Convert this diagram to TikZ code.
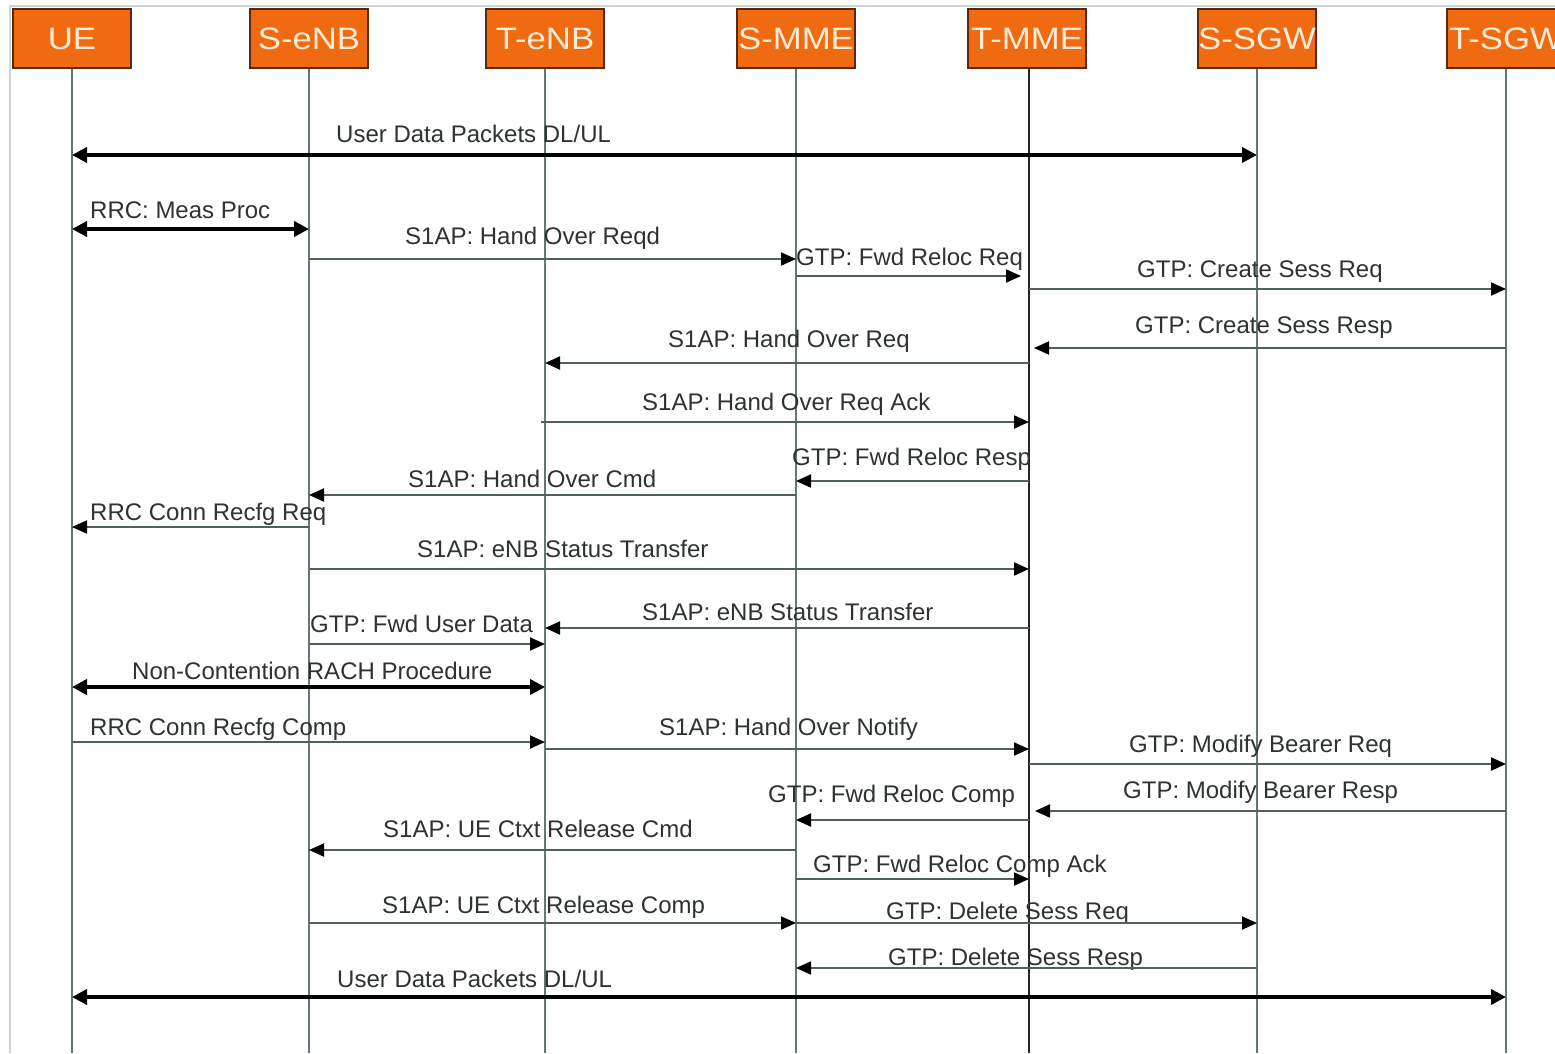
\documentclass[tikz,border=0pt]{standalone}
\usepackage{fontspec}
\setmainfont{Liberation Sans}
\usepackage{graphicx}
\usetikzlibrary{arrows.meta}
\definecolor{hdrfill}{RGB}{240,106,18}
\definecolor{hdrtext}{RGB}{255,236,214}
\definecolor{hdrborder}{RGB}{90,40,15}
\definecolor{lifegray}{RGB}{100,118,118}
\definecolor{msggray}{RGB}{80,95,95}
\definecolor{txtgray}{RGB}{45,50,50}
\definecolor{framegray}{RGB}{205,215,215}
\begin{document}
\begin{tikzpicture}[x=1pt,y=-1pt,
 hdr/.style={draw=hdrborder, line width=1.2pt, fill=hdrfill, minimum width=118pt, minimum height=59pt, inner sep=0pt, text=hdrtext, font=\fontsize{31}{31}\selectfont},
 lbl/.style={anchor=base west, inner sep=0pt, text=txtgray, font=\fontsize{24}{28}\selectfont},
 life/.style={draw=lifegray, line width=1.9pt},
 msg/.style={draw=msggray, line width=2pt, -{Triangle[length=15pt,width=13pt,color=black]}},
 bidir/.style={draw=black, line width=4.5pt, {Triangle[length=15pt,width=15pt]}-{Triangle[length=15pt,width=15pt]}}
]
\useasboundingbox (0,0) rectangle (1555,1053);
\fill[white] (0,0) rectangle (1555,1053);
\draw[framegray, line width=1.2pt] (10,1053) -- (10,6) -- (1555,6);

% headers
\node[hdr] (UE)   at (72,38.5)   {\scalebox{1.12}[1]{UE}};
\node[hdr] (SeNB) at (309,38.5)  {\scalebox{1.12}[1]{S-eNB}};
\node[hdr] (TeNB) at (545,38.5)  {\scalebox{1.12}[1]{T-eNB}};
\node[hdr] (SMME) at (796,38.5)  {\scalebox{1.12}[1]{S-MME}};
\node[hdr] (TMME) at (1027,38.5) {\scalebox{1.12}[1]{T-MME}};
\node[hdr] (SSGW) at (1257,38.5) {\scalebox{1.12}[1]{S-SGW}};
\node[hdr] (TSGW) at (1506,38.5) {\scalebox{1.12}[1]{T-SGW}};
\coordinate (TMMEtop) at (1029,68);

% lifelines
\foreach \n in {UE,SeNB,TeNB,SMME,SSGW,TSGW}
  \draw[life] (\n.south) -- (\n.south |- 0,1053);
\draw[draw=black!85, line width=2.4pt] (TMMEtop) -- (TMMEtop |- 0,1053);

% messages
\node[lbl] (l1) at (336,142) {User Data Packets DL/UL};
\draw[bidir] (UE |- 0,155) -- (SSGW |- 0,155);

\node[lbl] (l2) at (90,218) {RRC: Meas Proc};
\draw[bidir] (UE |- 0,229) -- (SeNB |- 0,229);

\node[lbl] (l3) at (405,244) {S1AP: Hand Over Reqd};
\draw[msg] (SeNB |- 0,259) -- (SMME |- 0,259);

\node[lbl] (l4) at (796,265) {GTP: Fwd Reloc Req};
\draw[msg, shorten >=8pt] (SMME |- 0,276) -- (TMMEtop |- 0,276);

\node[lbl] (l5) at (1137,277) {GTP: Create Sess Req};
\draw[msg] (TMMEtop |- 0,289) -- (TSGW |- 0,289);

\node[lbl] (l6) at (1135,333) {GTP: Create Sess Resp};
\draw[msg, shorten >=5pt] (TSGW |- 0,348) -- (TMMEtop |- 0,348);

\node[lbl] (l7) at (668,347) {S1AP: Hand Over Req};
\draw[msg] (TMMEtop |- 0,363) -- (TeNB |- 0,363);

\node[lbl] (l8) at (642,410) {S1AP: Hand Over Req Ack};
\draw[msg, shorten <=-4pt] (TeNB |- 0,422) -- (TMMEtop |- 0,422);

\node[lbl] (l9) at (792,465) {GTP: Fwd Reloc Resp};
\draw[msg] (TMMEtop |- 0,481) -- (SMME |- 0,481);

\node[lbl] (l10) at (408,487) {S1AP: Hand Over Cmd};
\draw[msg] (SMME |- 0,495) -- (SeNB |- 0,495);

\node[lbl] (l11) at (90,520) {RRC Conn Recfg Req};
\draw[msg] (SeNB |- 0,527) -- (UE |- 0,527);

\node[lbl] (l12) at (417,557) {S1AP: eNB Status Transfer};
\draw[msg] (SeNB |- 0,569) -- (TMMEtop |- 0,569);

\node[lbl] (l13) at (642,620) {S1AP: eNB Status Transfer};
\draw[msg] (TMMEtop |- 0,628) -- (TeNB |- 0,628);

\node[lbl] (l14) at (310,632) {GTP: Fwd User Data};
\draw[msg] (SeNB |- 0,644) -- (TeNB |- 0,644);

\node[lbl] (l15) at (132,679) {Non-Contention RACH Procedure};
\draw[bidir] (UE |- 0,687) -- (TeNB |- 0,687);

\node[lbl] (l16) at (90,735) {RRC Conn Recfg Comp};
\draw[msg] (UE |- 0,742) -- (TeNB |- 0,742);

\node[lbl] (l17) at (659,735) {S1AP: Hand Over Notify};
\draw[msg] (TeNB |- 0,749) -- (TMMEtop |- 0,749);

\node[lbl] (l18) at (1129,752) {GTP: Modify Bearer Req};
\draw[msg] (TMMEtop |- 0,764) -- (TSGW |- 0,764);

\node[lbl] (l19) at (768,802) {GTP: Fwd Reloc Comp};
\draw[msg] (TMMEtop |- 0,820) -- (SMME |- 0,820);

\node[lbl] (l20) at (1123,798) {GTP: Modify Bearer Resp};
\draw[msg, shorten >=6pt] (TSGW |- 0,811) -- (TMMEtop |- 0,811);

\node[lbl] (l21) at (383,837) {S1AP: UE Ctxt Release Cmd};
\draw[msg] (SMME |- 0,850) -- (SeNB |- 0,850);

\node[lbl] (l22) at (813,872) {GTP: Fwd Reloc Comp Ack};
\draw[msg] (SMME |- 0,879) -- (TMMEtop |- 0,879);

\node[lbl] (l23) at (382,913) {S1AP: UE Ctxt Release Comp};
\draw[msg] (SeNB |- 0,923) -- (SMME |- 0,923);

\node[lbl] (l24) at (886,919) {GTP: Delete Sess Req};
\draw[msg] (SMME |- 0,923) -- (SSGW |- 0,923);

\node[lbl] (l25) at (888,965) {GTP: Delete Sess Resp};
\draw[msg] (SSGW |- 0,968) -- (SMME |- 0,968);

\node[lbl] (l26) at (337,987) {User Data Packets DL/UL};
\draw[bidir] (UE |- 0,997) -- (TSGW |- 0,997);
\end{tikzpicture}
\end{document}
